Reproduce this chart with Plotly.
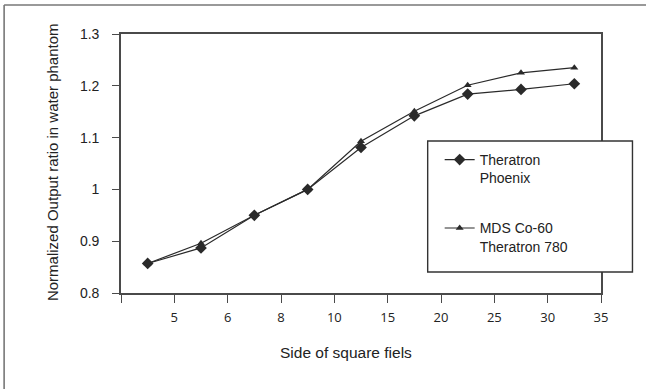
import numpy as np
import plotly.graph_objects as go

# Field-size categories (side of square field, cm) shown as axis tick labels
field_ticks = ["", "5", "6", "8", "10", "15", "20", "25", "30", "35"]

# Normalized output ratio measured in a water phantom
phoenix = [0.857, 0.887, 0.950, 1.000, 1.081, 1.142, 1.184, 1.193, 1.204]
mds_780 = [0.857, 0.896, 0.950, 1.000, 1.093, 1.151, 1.201, 1.225, 1.235]

# each measurement sits midway between two adjacent category ticks
x_pos = np.arange(len(phoenix)) + 0.5
tick_pos = np.arange(len(field_ticks))

W, H = 646, 389
ML, MR, MT, MB = 121, 44.5, 34, 96
pw, ph = W - ML - MR, H - MT - MB


def px_x(p):
    return (p - ML) / pw


def px_y(p):
    return (H - MB - p) / ph


ink = "#2a2a2a"
axis_col = "#4a4a4a"
font_main = "Liberation Sans, Arial, sans-serif"

fig = go.Figure()
fig.add_trace(go.Scatter(
    x=x_pos, y=phoenix, mode="lines+markers",
    name="Theratron<br>Phoenix", legendgroup="a",
    line=dict(color=ink, width=1.2),
    marker=dict(symbol="diamond", size=9, color=ink),
))
fig.add_trace(go.Scatter(
    x=x_pos, y=mds_780, mode="lines+markers",
    name="MDS Co-60<br>Theratron 780", legendgroup="b",
    line=dict(color=ink, width=1.2),
    marker=dict(symbol="triangle-up", size=7, color=ink),
))

fig.update_layout(
    width=W, height=H,
    margin=dict(l=ML, r=MR, t=MT, b=MB, pad=0),
    paper_bgcolor="white", plot_bgcolor="white",
    font=dict(family=font_main, size=14, color="#222"),
    showlegend=True,
    legend=dict(
        x=px_x(440), y=px_y(144), xanchor="left", yanchor="top",
        bgcolor="rgba(0,0,0,0)", borderwidth=0,
        font=dict(size=14, color="#222", family=font_main),
        valign="top", tracegroupgap=29,
    ),
    xaxis=dict(
        range=[0, len(field_ticks) - 1], tickvals=tick_pos, ticktext=field_ticks,
        showgrid=False, zeroline=False,
        showline=True, linecolor=axis_col, linewidth=1.6, mirror=True,
        ticks="outside", ticklen=8, tickwidth=1.4, tickcolor=axis_col,
        tickfont=dict(family="Open Sans, sans-serif", size=13, color="#222"),
        ticklabelstandoff=4,
    ),
    yaxis=dict(
        range=[0.8, 1.3], tickvals=[0.8, 0.9, 1.0, 1.1, 1.2, 1.3],
        ticktext=["0.8", "0.9", "1", "1.1", "1.2", "1.3"],
        showgrid=False, zeroline=False,
        showline=True, linecolor=axis_col, linewidth=1.6, mirror=True,
        ticks="outside", ticklen=7, tickwidth=1.4, tickcolor=axis_col,
        tickfont=dict(size=14, color="#222"),
        ticklabelstandoff=10,
    ),
    shapes=[
        # legend frame, opaque so the plot border is hidden behind it
        dict(type="rect", xref="paper", yref="paper", layer="above",
             x0=px_x(428), x1=px_x(633), y0=px_y(272), y1=px_y(141),
             line=dict(color="#333", width=1.4), fillcolor="white"),
        # outer figure frame (top and left edges)
        dict(type="line", xref="paper", yref="paper",
             x0=px_x(4), x1=px_x(W + 2), y0=px_y(5), y1=px_y(5),
             line=dict(color="#777", width=1.6)),
        dict(type="line", xref="paper", yref="paper",
             x0=px_x(4), x1=px_x(4), y0=px_y(5), y1=px_y(H + 2),
             line=dict(color="#777", width=1.6)),
    ],
    annotations=[
        dict(text="Side of square fiels", xref="paper", yref="paper",
             x=px_x(346), y=px_y(352), xanchor="center", yanchor="middle",
             showarrow=False, font=dict(size=15.5, color="#222")),
        dict(text="Normalized Output ratio in water phantom", xref="paper", yref="paper",
             x=px_x(52), y=px_y(162), xanchor="center", yanchor="middle",
             textangle=-90, showarrow=False, font=dict(size=15, color="#222")),
    ],
)

fig.write_html("out.html")
